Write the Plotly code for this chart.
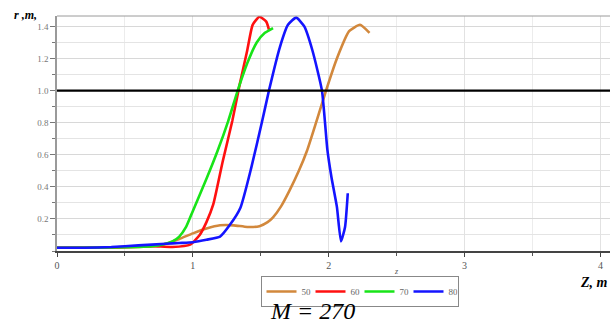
import plotly.graph_objects as go

# ---- data ----
series_names = ["50", "60", "70", "80"]

x50 = [0, 0.4, 0.7, 0.8, 0.9, 1.0, 1.1, 1.2, 1.3, 1.4, 1.49, 1.55, 1.59, 1.65, 1.71, 1.78, 1.84, 1.91, 1.98, 2.06, 2.15, 2.23, 2.30]
y50 = [0.02, 0.022, 0.03, 0.045, 0.075, 0.11, 0.14, 0.16, 0.16, 0.15, 0.155, 0.18, 0.21, 0.28, 0.375, 0.5, 0.625, 0.81, 1.0, 1.2, 1.37, 1.41, 1.36]

x60 = [0, 0.4, 0.7, 0.85, 0.98, 1.05, 1.1, 1.15, 1.22, 1.29, 1.34, 1.40, 1.44, 1.49, 1.54, 1.56]
y60 = [0.02, 0.022, 0.03, 0.025, 0.04, 0.10, 0.18, 0.29, 0.56, 0.81, 1.02, 1.25, 1.41, 1.46, 1.43, 1.38]

x70 = [0, 0.4, 0.7, 0.78, 0.85, 0.9, 0.95, 1.0, 1.1, 1.18, 1.26, 1.33, 1.40, 1.47, 1.53, 1.59]
y70 = [0.02, 0.022, 0.03, 0.04, 0.06, 0.09, 0.15, 0.25, 0.45, 0.62, 0.81, 1.0, 1.17, 1.30, 1.36, 1.39]

x80 = [0, 0.2, 0.4, 0.6, 0.8, 0.9, 1.0, 1.1, 1.2, 1.27, 1.35, 1.43, 1.51, 1.56, 1.64, 1.70, 1.76, 1.82, 1.88, 1.95, 1.99, 2.02, 2.06, 2.09, 2.12, 2.14]
y80 = [0.02, 0.02, 0.025, 0.035, 0.045, 0.05, 0.055, 0.07, 0.09, 0.16, 0.27, 0.52, 0.81, 1.0, 1.27, 1.41, 1.455, 1.40, 1.25, 1.0, 0.63, 0.46, 0.275, 0.06, 0.15, 0.36]

colors = ["#D2883C", "#FF1010", "#18E418", "#1414FF"]
ref_level = 1.0

x_tick_vals = [0, 1, 2, 3, 4]
y_tick_vals = [0.2, 0.4, 0.6, 0.8, 1.0, 1.2, 1.4]

serif = "Liberation Serif, Times New Roman, serif"

W, H = 615, 324
L, R, T, B = 57, 5, 16, 73
PW, PH = W - L - R, H - T - B

fig = go.Figure()
for name, xs, ys, c in zip(series_names, [x50, x60, x70, x80], [y50, y60, y70, y80], colors):
    fig.add_trace(go.Scatter(x=xs, y=ys, mode="lines", name=name,
                             line=dict(color=c, width=2.6, shape="spline", smoothing=0.5)))

fig.add_shape(type="line", xref="paper", x0=0, x1=1, yref="y", y0=ref_level, y1=ref_level,
              line=dict(color="black", width=2.2))
fig.add_shape(type="line", xref="paper", x0=0, x1=1, yref="paper", y0=1, y1=1,
              line=dict(color="#9a9a9a", width=1))

fig.update_xaxes(range=[0, 4.07], tickvals=x_tick_vals, ticktext=[str(v) for v in x_tick_vals],
                 automargin=False,
                 showgrid=True, gridcolor="#e2e2e2", gridwidth=1,
                 minor=dict(dtick=0.5, tick0=0, showgrid=True, gridcolor="#ececec", ticks="outside", ticklen=3, tickcolor="#555"),
                 showline=True, linecolor="#444", linewidth=1.5,
                 ticks="outside", ticklen=4, tickcolor="#444",
                 tickfont=dict(family=serif, size=10, color="#555"), zeroline=False)
fig.update_yaxes(range=[0, 1.465], tickvals=y_tick_vals, ticktext=["%.1f" % v for v in y_tick_vals],
                 automargin=False,
                 showgrid=True, gridcolor="#d8d8d8", gridwidth=1,
                 minor=dict(dtick=0.1, tick0=0, showgrid=True, gridcolor="#e4e4e4", ticks="outside", ticklen=3, tickcolor="#777"),
                 showline=True, linecolor="#9a9a9a", linewidth=1.5,
                 ticks="outside", ticklen=5, tickcolor="#777",
                 tickfont=dict(family=serif, size=9, color="#777"), zeroline=False)

fig.update_layout(
    width=W, height=H,
    margin=dict(l=L, r=R, t=T, b=B, autoexpand=False),
    paper_bgcolor="white", plot_bgcolor="white",
    showlegend=True,
    legend=dict(orientation="h", xref="container", yref="container",
                x=359.5 / W, xanchor="center", y=1 - 276 / H, yanchor="top",
                bordercolor="#888", borderwidth=1, bgcolor="white",
                font=dict(family=serif, size=9, color="#666"),
                entrywidth=4, entrywidthmode="pixels", tracegroupgap=0,
                itemwidth=30),
)

fig.add_annotation(text="<b><i>r ,m,</i></b>", xref="paper", yref="paper",
                   x=-45 / PW, y=1 + 1 / PH, xanchor="left", yanchor="middle", showarrow=False,
                   font=dict(family=serif, size=12, color="black"))
fig.add_annotation(text="<b><i>Z, m</i></b>", xref="paper", yref="paper",
                   x=1.0, y=-(282 - (T + PH)) / PH, xanchor="right", yanchor="middle", showarrow=False,
                   font=dict(family=serif, size=14, color="black"))
fig.add_annotation(text="<i>z</i>", xref="paper", yref="paper",
                   x=(396 - L) / PW, y=-(271 - (T + PH)) / PH, xanchor="center", yanchor="middle", showarrow=False,
                   font=dict(family=serif, size=8, color="#555"))
fig.add_annotation(text="<i>M = 270</i>", xref="paper", yref="paper",
                   x=(312 - L) / PW, y=-(311 - (T + PH)) / PH, xanchor="center", yanchor="middle", showarrow=False,
                   font=dict(family=serif, size=24, color="black"))

fig.write_html("out.html", config={"displayModeBar": False},
               post_script="document.body.style.margin='0px';document.body.style.overflow='hidden';")
